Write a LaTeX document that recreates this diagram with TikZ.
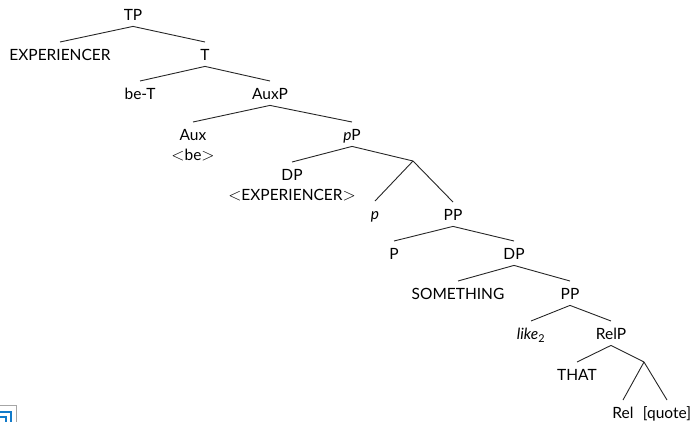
\documentclass[tikz,border=0pt]{standalone}
\usepackage{fontspec}
\setmainfont{Lato}
\newcommand\myangL{{\fontsize{19}{20}\selectfont$<$}}
\newcommand\myangR{{\fontsize{19}{20}\selectfont$>$}}
\begin{document}
\begin{tikzpicture}[x=1pt,y=-1pt,
  tn/.style={font=\fontsize{15.5}{20}\selectfont, inner xsep=0pt, inner ysep=2pt,
     text height=16.55pt, text depth=3.45pt, anchor=north},
  lbl/.style={font=\fontsize{15.5}{20}\selectfont, inner sep=0pt,
     text height=14pt, text depth=0pt, label distance=0pt},
  br/.style={line width=0.9pt, black!85}]
\useasboundingbox (0,0) rectangle (693,421);
\node[tn] (TP) at (133,2) {TP};
\node[tn] (EXP) at (60,42) {EXPERIENCER};
\node[tn] (T) at (205,42) {T};
\node[tn] (beT) at (140,81) {be-T};
\node[tn] (AuxP) at (270,81) {AuxP};
\node[tn, label={[lbl]below:\myangL be\myangR}] (Aux) at (193,122) {Aux};
\node[tn] (pP) at (352,122) {\textit{p}P};
\node[tn, label={[lbl]below:\myangL EXPERIENCER\myangR}] (DPa) at (292,162) {DP};
\coordinate (bar) at (413,161);
\node[tn] (p) at (375,201) {\textit{p}};
\node[tn] (PPa) at (453,202) {PP};
\node[tn] (P) at (394,241) {P};
\node[tn] (DPb) at (514,241) {DP};
\node[tn] (SOM) at (458,281) {SOMETHING};
\node[tn] (PPb) at (570,281) {PP};
\node[tn] (like) at (531,321) {\textit{like}\textsubscript{\upshape 2}};
\node[tn] (RelP) at (611,321) {RelP};
\node[tn] (THAT) at (577,362) {THAT};
\coordinate (bar2) at (644,362);
\node[tn] (Rel) at (623,400) {Rel};
\node[tn] (quote) at (667,400) {[quote]};
\draw[br] (TP.south) -- (EXP.north);
\draw[br] (TP.south) -- (T.north);
\draw[br] (T.south) -- (beT.north);
\draw[br] (T.south) -- (AuxP.north);
\draw[br] (AuxP.south) -- (Aux.north);
\draw[br] (AuxP.south) -- (pP.north);
\draw[br] (pP.south) -- (DPa.north);
\draw[br] (pP.south) -- (bar);
\draw[br] (bar) -- (p.north);
\draw[br] (bar) -- (PPa.north);
\draw[br] (PPa.south) -- (P.north);
\draw[br] (PPa.south) -- (DPb.north);
\draw[br] (DPb.south) -- (SOM.north);
\draw[br] (DPb.south) -- (PPb.north);
\draw[br] (PPb.south) -- (like.north);
\draw[br] (PPb.south) -- (RelP.north);
\draw[br] (RelP.south) -- (THAT.north);
\draw[br] (RelP.south) -- (bar2);
\draw[br] (bar2) -- (Rel.north);
\draw[br] (bar2) -- (quote.north);
% small icon at bottom left
\draw[gray!70, line width=0.8pt] (-1,405) -- (16,405) -- (16,422);
\draw[cyan!60!blue, line width=2pt] (0,412) -- (11,412) -- (11,422);
\draw[cyan!60!blue, line width=2pt] (0,417) -- (6,417) -- (6,422);
\end{tikzpicture}
\end{document}
